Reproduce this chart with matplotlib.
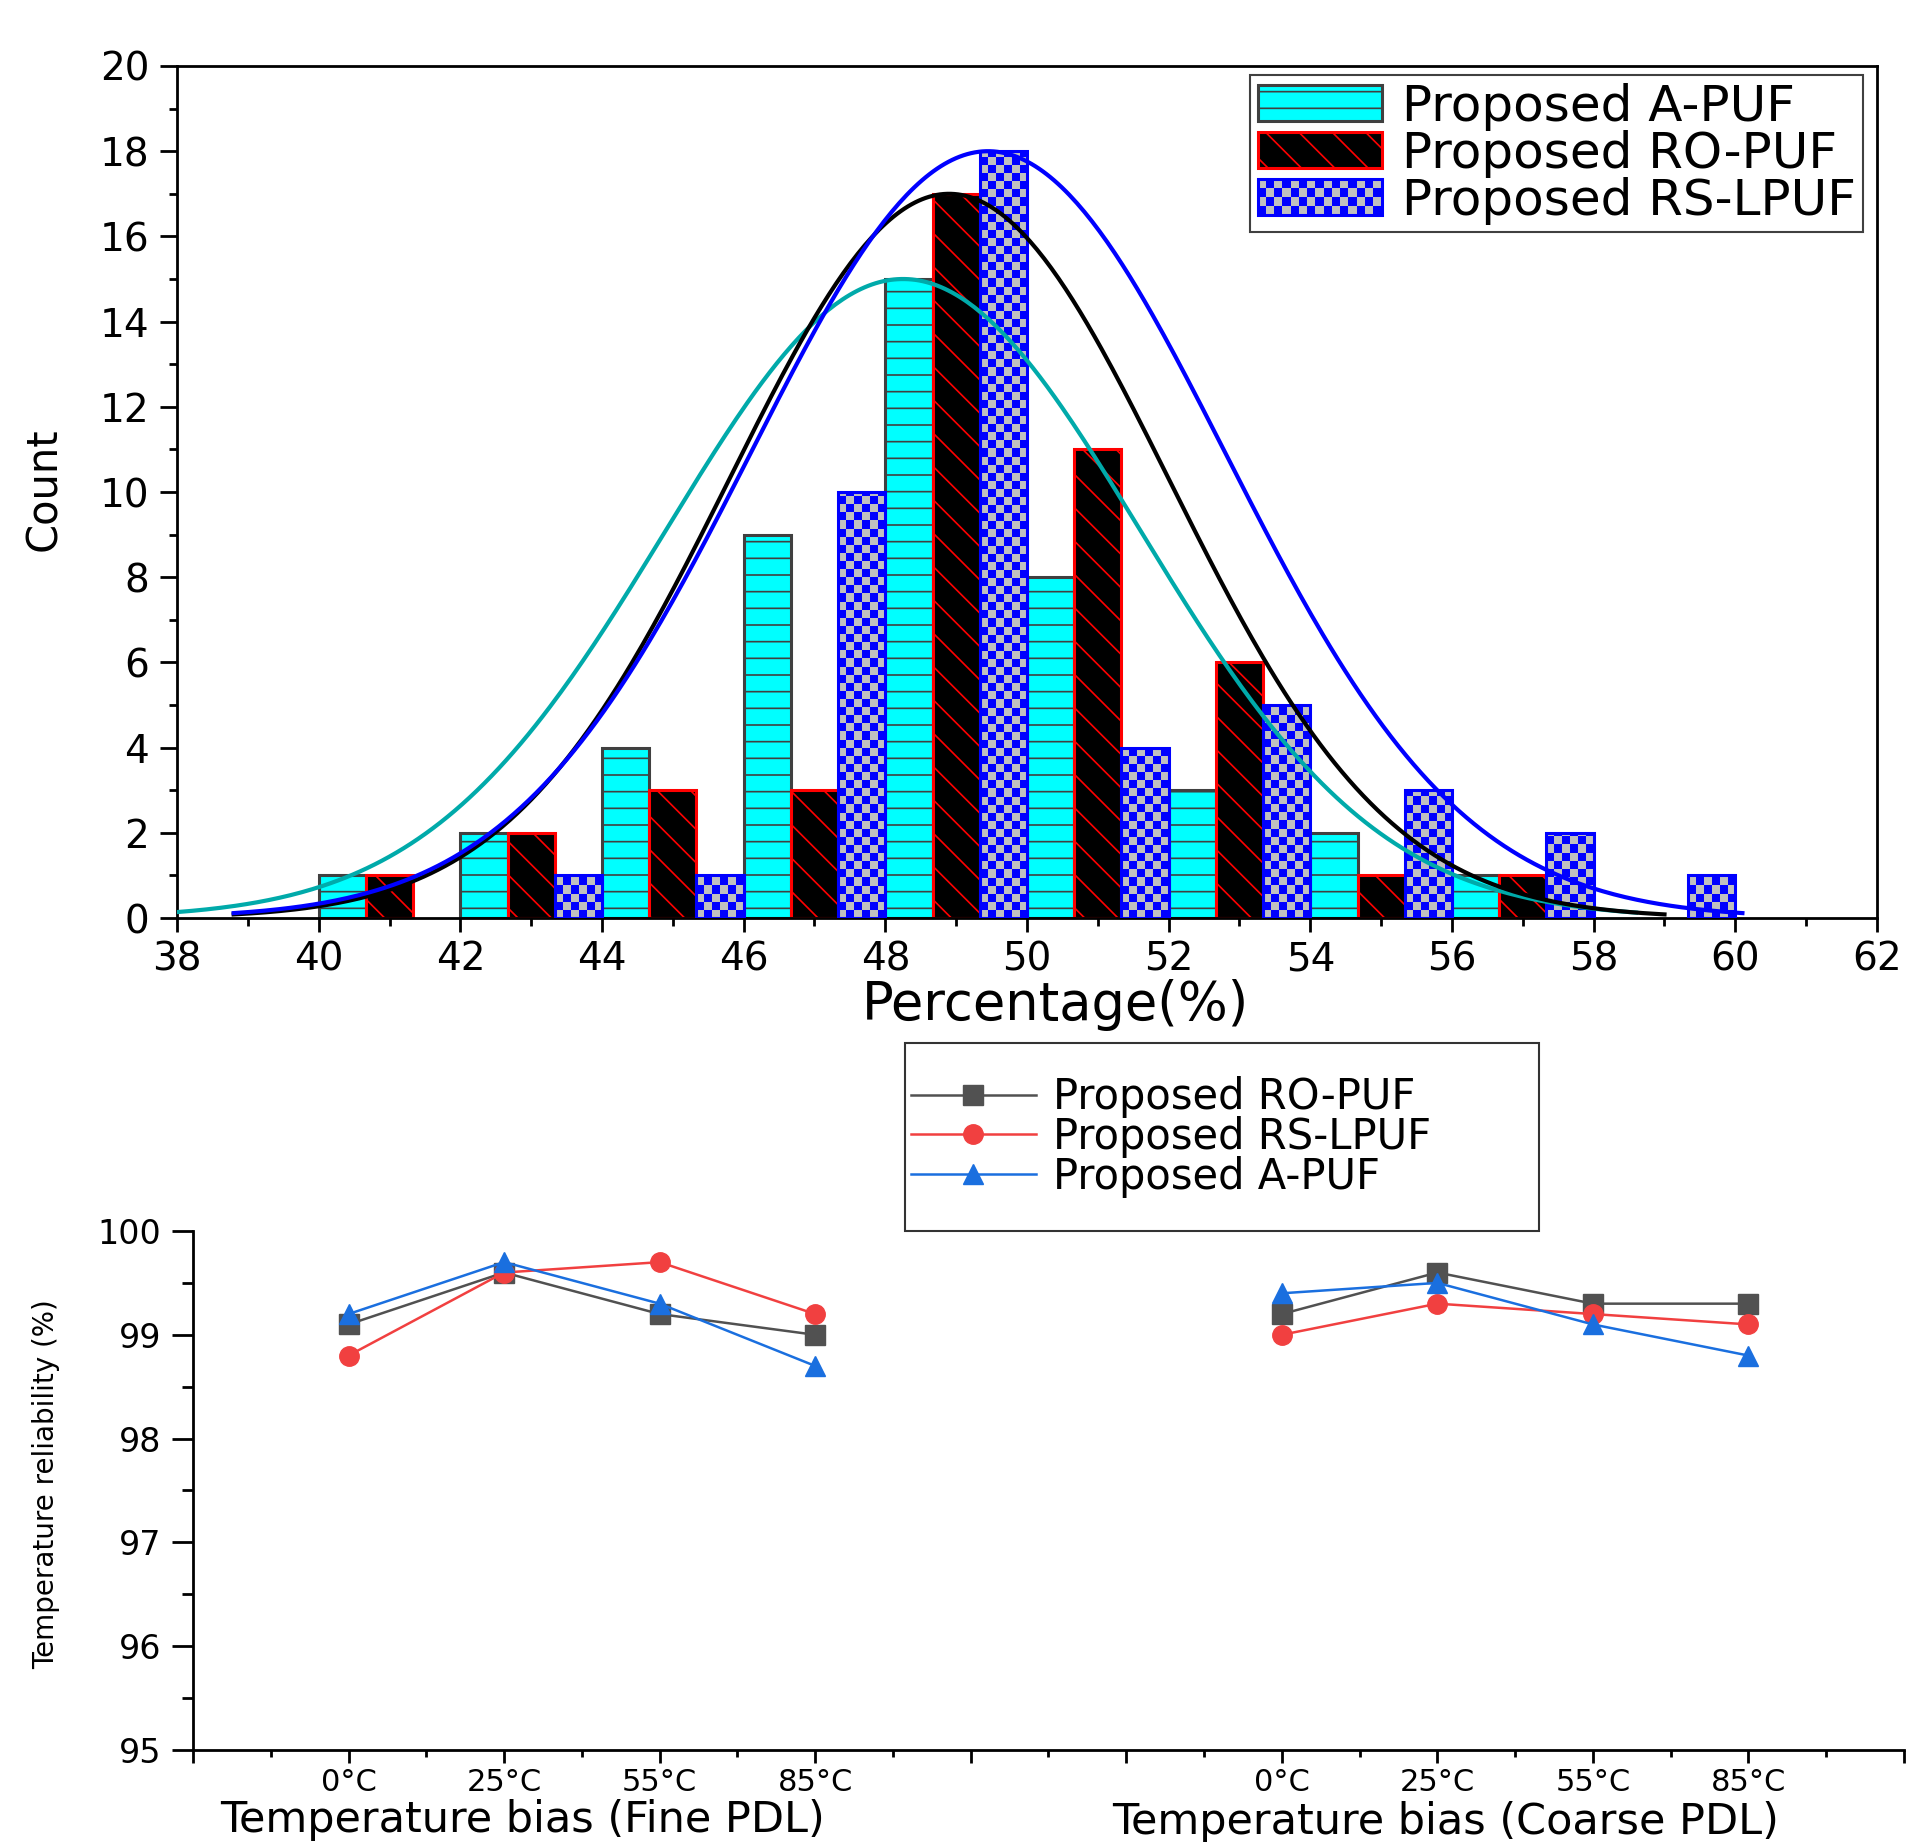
import numpy as np
import matplotlib
matplotlib.use("Agg")
import matplotlib.pyplot as plt
from matplotlib.patches import Patch, Rectangle
from matplotlib.lines import Line2D
from matplotlib.colors import ListedColormap
from matplotlib.legend_handler import HandlerBase
from matplotlib.ticker import MultipleLocator

plt.rcParams['font.family'] = ['DejaVu Sans']
plt.rcParams['hatch.linewidth'] = 1.2

# histogram data (counts per 2% bin, three series side by side)
bin_starts = [40, 42, 44, 46, 48, 50, 52, 54, 56, 58]
a_counts = [1, 2, 4, 9, 15, 8, 3, 2, 1, 0]
ro_counts = [1, 2, 3, 3, 17, 11, 6, 1, 1, 0]
rs_counts = [0, 1, 1, 10, 18, 4, 5, 3, 2, 1]
hist_labels = ['Proposed A-PUF', 'Proposed RO-PUF', 'Proposed RS-LPUF']

# fitted normal curves: (mean, sigma, peak, x start, x end)
a_fit = (48.25, 3.35, 15.0, 38.0, 58.6)
ro_fit = (48.9, 3.1, 17.0, 38.8, 59.0)
rs_fit = (49.45, 3.35, 18.0, 38.8, 60.1)

# temperature reliability data
temps = ['0°C', '25°C', '55°C', '85°C']
ro_fine = [99.1, 99.6, 99.2, 99.0]
rs_fine = [98.8, 99.6, 99.7, 99.2]
a_fine = [99.2, 99.7, 99.3, 98.7]
ro_coarse = [99.2, 99.6, 99.3, 99.3]
rs_coarse = [99.0, 99.3, 99.2, 99.1]
a_coarse = [99.4, 99.5, 99.1, 98.8]

CYAN = '#00ffff'
GREYEDGE = '#404040'
RED = '#ff0000'
BLUE = '#0000ff'
SILVER = '#c0c0c0'

W, H = 1908, 1842
fig = plt.figure(figsize=(W / 100, H / 100), dpi=100)


def fx(px):
    return px / W


def fy(py):
    return 1 - py / H


# ---------------- top: histogram ----------------
ax = fig.add_axes([fx(177), fy(918), fx(1877) - fx(177), fy(66) - fy(918)])
bw = 2 / 3
starts = np.array(bin_starts, dtype=float)


def nonzero(offset, counts):
    c = np.array(counts)
    keep = c > 0
    return starts[keep] + offset, c[keep]


x, h = nonzero(0, a_counts)
ax.bar(x, h, width=bw, align='edge', color=CYAN, edgecolor=GREYEDGE,
       hatch='-', linewidth=2.2, zorder=2)
x, h = nonzero(bw, ro_counts)
ax.bar(x, h, width=bw, align='edge', color='black', edgecolor=RED,
       hatch='\\', linewidth=2.2, zorder=2)
x, h = nonzero(2 * bw, rs_counts)
rs_bars = ax.bar(x, h, width=bw, align='edge', color='none',
                 edgecolor=BLUE, linewidth=2.2, zorder=3)

# checkerboard fill for RS-LPUF bars
checker_cmap = ListedColormap([SILVER, BLUE])
cw, ch = 0.113, 0.19
for bar in rs_bars:
    x0, hh = bar.get_x(), bar.get_height()
    nx = int(round(bw / cw))
    ny = int(np.ceil(hh / ch))
    jj, ii = np.indices((ny, nx))
    tex = (ii + jj) % 2
    im = ax.imshow(tex, cmap=checker_cmap, extent=(x0, x0 + bw, 0, ny * ch),
                   origin='lower', interpolation='nearest', aspect='auto', zorder=2)
    im.set_clip_path(bar)

for (mu, sd, peak, xa, xb), col in zip([a_fit, ro_fit, rs_fit], ['#00aaaa', 'black', BLUE]):
    xs = np.linspace(xa, xb, 400)
    ax.plot(xs, peak * np.exp(-(xs - mu) ** 2 / (2 * sd ** 2)), color=col, lw=3, zorder=5)

ax.set_xlim(38, 62)
ax.set_ylim(0, 20)
ax.xaxis.set_major_locator(MultipleLocator(2))
ax.xaxis.set_minor_locator(MultipleLocator(1))
ax.yaxis.set_major_locator(MultipleLocator(2))
ax.yaxis.set_minor_locator(MultipleLocator(1))
ax.tick_params(axis='both', which='both', direction='out', width=2, labelsize=28,
               top=False, right=False)
ax.tick_params(axis='x', which='major', length=10, pad=6)
ax.tick_params(axis='x', which='minor', length=6)
ax.tick_params(axis='y', which='major', length=12, pad=8)
ax.tick_params(axis='y', which='minor', length=6)
for s in ax.spines.values():
    s.set_linewidth(2)
ax.set_xlabel('Percentage(%)', fontsize=38, va='center')
ax.xaxis.set_label_coords(0.517, -0.102)
ax.set_ylabel('Count', fontsize=30, va='center')
ax.yaxis.set_label_coords(-0.078, 0.5035)


class CheckerHandler(HandlerBase):
    def create_artists(self, legend, orig_handle, xdescent, ydescent, width, height,
                       fontsize, trans):
        arts = []
        nx, ny = 15, 4
        w, h = width / nx, height / ny
        for i in range(nx):
            for j in range(ny):
                c = BLUE if (i + j) % 2 == 0 else SILVER
                arts.append(Rectangle((-xdescent + i * w, -ydescent + j * h), w, h,
                                      facecolor=c, edgecolor='none', transform=trans))
        arts.append(Rectangle((-xdescent, -ydescent), width, height, facecolor='none',
                              edgecolor=BLUE, lw=2.2, transform=trans))
        return arts


pa = Patch(facecolor=CYAN, edgecolor=GREYEDGE, hatch='-', lw=2.2)
pr = Patch(facecolor='black', edgecolor=RED, hatch='\\', lw=2.2)
ps = Patch(facecolor=SILVER, edgecolor=BLUE, lw=2.2)
leg = ax.legend([pa, pr, ps], hist_labels, loc='upper right',
                bbox_to_anchor=(0.9918, 0.9894), borderaxespad=0, fontsize=36,
                handlelength=2.48, handleheight=0.74, handletextpad=0.4,
                labelspacing=-0.02, borderpad=0.15, fancybox=False,
                edgecolor=GREYEDGE, framealpha=1, handler_map={ps: CheckerHandler()})
leg.get_frame().set_linewidth(1.5)
leg.set_zorder(10)

# ---------------- bottom: temperature reliability ----------------
bx = fig.add_axes([fx(193), fy(1750), fx(1904) - fx(193), fy(1231) - fy(1750)])
fine_x = np.arange(1, 5)
coarse_x = np.arange(7, 11)

styles = [('Proposed RO-PUF', ro_fine, ro_coarse, '#515151', 's'),
          ('Proposed RS-LPUF', rs_fine, rs_coarse, '#F14040', 'o'),
          ('Proposed A-PUF', a_fine, a_coarse, '#1A6FDF', '^')]
handles = []
for lab, fine, coarse, col, mk in styles:
    for xs, ys in [(fine_x, fine), (coarse_x, coarse)]:
        bx.plot(xs, ys, color=col, marker=mk, markersize=14, lw=1.8, clip_on=False)
    handles.append(Line2D([], [], color=col, marker=mk, markersize=14, lw=1.8, label=lab))

bx.set_xlim(0, 11)
bx.set_ylim(95, 100)
bx.set_xticks(np.arange(0, 12))
bx.set_xticklabels([''] + temps + ['', ''] + temps + [''])
bx.xaxis.set_minor_locator(MultipleLocator(0.5))
bx.yaxis.set_major_locator(MultipleLocator(1))
bx.yaxis.set_minor_locator(MultipleLocator(0.5))
bx.spines['top'].set_visible(False)
bx.spines['right'].set_visible(False)
for s in ['left', 'bottom']:
    bx.spines[s].set_linewidth(2)
bx.tick_params(axis='y', which='both', direction='out', width=2, labelsize=24)
bx.tick_params(axis='x', which='both', direction='out', width=2, labelsize=22)
bx.tick_params(axis='y', which='major', length=15, pad=8)
bx.tick_params(axis='y', which='minor', length=8)
bx.tick_params(axis='x', which='major', length=9, pad=4)
bx.tick_params(axis='x', which='minor', length=5)
bx.set_ylabel('Temperature reliability (%)', fontsize=20, va='center')
bx.yaxis.set_label_coords(-0.086, 0.5125)

fig.text(fx(523), fy(1832), 'Temperature bias (Fine PDL)', fontsize=31,
         ha='center', va='baseline')
fig.text(fx(1112), fy(1834), 'Temperature bias (Coarse PDL)', fontsize=31,
         ha='left', va='baseline')

fig.legend(handles=handles, loc='center left', bbox_to_anchor=(fx(911), fy(1137)),
           frameon=False, borderpad=0, borderaxespad=0, fontsize=30,
           handlelength=3.0, handletextpad=0.4, labelspacing=-0.05)
fig.add_artist(Rectangle((fx(905), fy(1231)), fx(1539) - fx(905), fy(1043) - fy(1231),
                         transform=fig.transFigure, fill=False, edgecolor='#333333', lw=1.5))

fig.savefig('out.png', dpi=100)
